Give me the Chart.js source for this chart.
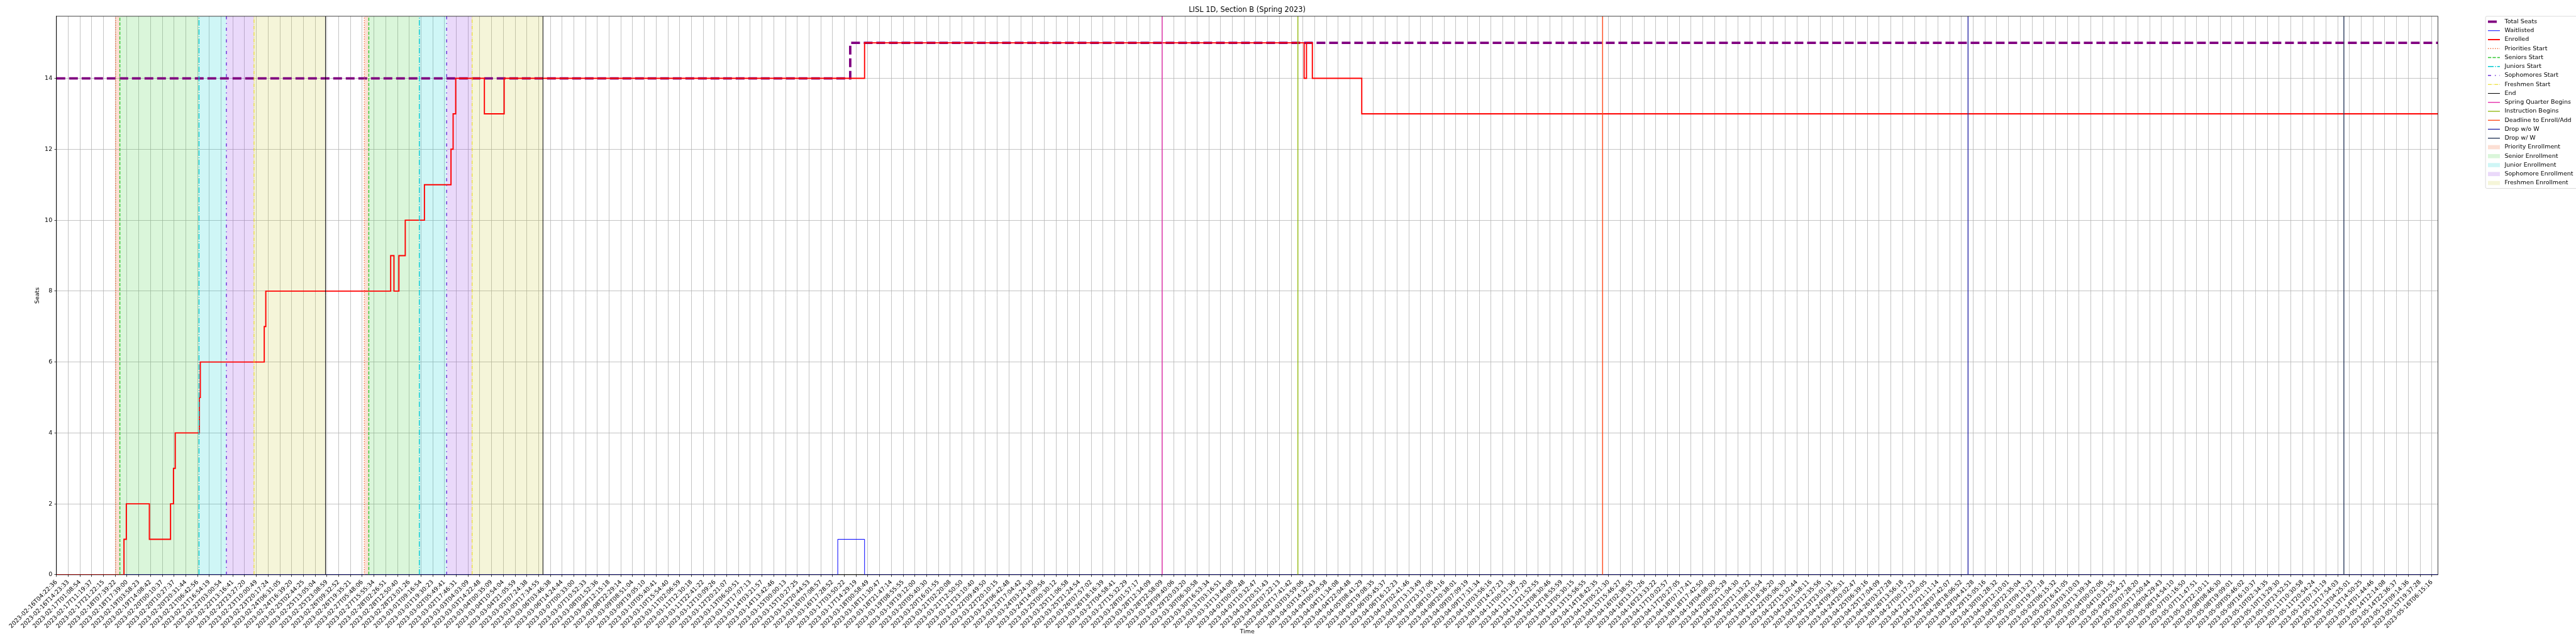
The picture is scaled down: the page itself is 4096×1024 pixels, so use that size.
<!DOCTYPE html>
<html>
<head>
<meta charset="utf-8">
<script src="https://cdn.jsdelivr.net/npm/chart.js@4.4.0/dist/chart.umd.min.js"></script>
<style>
  html, body { margin: 0; padding: 0; background: #fff; }
  canvas { display: block; }
</style>
</head>
<body>
<canvas id="chart" width="4096" height="1024"></canvas>
<script>
// x is the sample index (one tick per labelled sample), y is seats

const tickLabels = [
  '2023-02-16T04:22:36', '2023-02-16T14:23:33', '2023-02-17T01:08:54', '2023-02-17T11:19:37',
  '2023-02-17T21:22:15', '2023-02-18T07:39:22', '2023-02-18T17:39:00', '2023-02-19T03:58:23',
  '2023-02-19T14:08:42', '2023-02-20T00:10:37', '2023-02-20T10:27:37', '2023-02-20T20:31:44',
  '2023-02-21T06:42:56', '2023-02-21T16:54:19', '2023-02-22T03:00:54', '2023-02-22T13:16:41',
  '2023-02-22T23:27:20', '2023-02-23T10:00:49', '2023-02-23T20:17:24', '2023-02-24T06:31:05',
  '2023-02-24T16:39:20', '2023-02-25T02:44:25', '2023-02-25T13:05:04', '2023-02-25T23:08:59',
  '2023-02-26T09:32:52', '2023-02-26T19:35:21', '2023-02-27T05:48:06', '2023-02-27T15:55:34',
  '2023-02-28T02:26:51', '2023-02-28T12:50:40', '2023-02-28T23:01:26', '2023-03-01T09:16:54',
  '2023-03-01T19:30:23', '2023-03-02T05:49:41', '2023-03-02T17:46:31', '2023-03-03T04:03:09',
  '2023-03-03T14:22:48', '2023-03-04T00:35:09', '2023-03-04T10:54:04', '2023-03-04T21:05:59',
  '2023-03-05T07:24:38', '2023-03-05T17:34:55', '2023-03-06T03:46:38', '2023-03-06T14:24:44',
  '2023-03-07T00:33:00', '2023-03-07T10:52:33', '2023-03-08T01:52:36', '2023-03-08T12:15:18',
  '2023-03-08T22:29:14', '2023-03-09T08:51:04', '2023-03-09T19:05:10', '2023-03-10T05:40:41',
  '2023-03-10T15:54:40', '2023-03-11T02:06:59', '2023-03-11T12:30:18', '2023-03-11T22:41:22',
  '2023-03-12T10:09:26', '2023-03-12T20:21:07', '2023-03-13T06:50:51', '2023-03-13T17:07:13',
  '2023-03-14T03:21:57', '2023-03-14T13:42:46', '2023-03-15T00:00:13', '2023-03-15T10:27:25',
  '2023-03-15T20:44:53', '2023-03-16T07:08:57', '2023-03-16T17:28:52', '2023-03-17T03:50:22',
  '2023-03-17T14:29:19', '2023-03-18T00:58:49', '2023-03-18T11:30:47', '2023-03-18T21:47:14',
  '2023-03-19T08:55:55', '2023-03-19T19:12:00', '2023-03-20T05:40:30', '2023-03-20T16:01:55',
  '2023-03-21T02:20:08', '2023-03-21T12:50:50', '2023-03-21T23:10:40', '2023-03-22T09:49:50',
  '2023-03-22T20:10:15', '2023-03-23T06:42:48', '2023-03-23T17:04:42', '2023-03-24T03:24:30',
  '2023-03-24T14:09:56', '2023-03-25T00:30:12', '2023-03-25T11:06:58', '2023-03-25T21:24:54',
  '2023-03-26T07:57:02', '2023-03-26T18:16:39', '2023-03-27T04:58:41', '2023-03-27T15:32:29',
  '2023-03-28T01:57:17', '2023-03-28T12:34:09', '2023-03-28T22:58:09', '2023-03-29T09:40:06',
  '2023-03-29T20:03:20', '2023-03-30T06:30:58', '2023-03-30T16:53:34', '2023-03-31T03:16:51',
  '2023-03-31T13:44:08', '2023-04-01T00:02:48', '2023-04-01T10:32:47', '2023-04-01T20:51:43',
  '2023-04-02T07:22:13', '2023-04-02T17:41:42', '2023-04-03T03:59:06', '2023-04-03T14:32:43',
  '2023-04-04T00:59:58', '2023-04-04T11:34:08', '2023-04-04T22:04:48', '2023-04-05T08:41:29',
  '2023-04-05T19:08:35', '2023-04-06T05:45:37', '2023-04-06T16:12:23', '2023-04-07T02:41:46',
  '2023-04-07T13:13:49', '2023-04-07T23:37:06', '2023-04-08T10:14:16', '2023-04-08T20:38:01',
  '2023-04-09T07:09:19', '2023-04-09T17:31:34', '2023-04-10T03:56:16', '2023-04-10T14:27:23',
  '2023-04-11T00:51:36', '2023-04-11T11:27:20', '2023-04-11T21:52:55', '2023-04-12T08:30:46',
  '2023-04-12T18:55:59', '2023-04-13T05:30:15', '2023-04-13T15:56:55', '2023-04-14T18:42:35',
  '2023-04-15T05:21:30', '2023-04-15T15:46:27', '2023-04-16T02:38:55', '2023-04-16T13:11:26',
  '2023-04-16T23:33:22', '2023-04-17T10:02:57', '2023-04-17T20:27:05', '2023-04-18T07:17:41',
  '2023-04-18T17:42:50', '2023-04-19T04:08:00', '2023-04-20T00:25:29', '2023-04-20T11:04:30',
  '2023-04-20T21:33:22', '2023-04-21T08:10:54', '2023-04-21T18:36:20', '2023-04-22T05:06:30',
  '2023-04-22T15:32:44', '2023-04-23T01:58:11', '2023-04-23T12:35:56', '2023-04-23T23:01:31',
  '2023-04-24T09:36:31', '2023-04-24T20:02:47', '2023-04-25T06:39:16', '2023-04-25T17:04:09',
  '2023-04-26T03:27:28', '2023-04-26T13:56:18', '2023-04-27T00:17:23', '2023-04-27T10:50:05',
  '2023-04-27T21:11:14', '2023-04-28T07:42:07', '2023-04-28T18:06:52', '2023-04-29T04:41:28',
  '2023-04-29T15:05:16', '2023-04-30T01:28:32', '2023-04-30T12:10:01', '2023-04-30T22:35:04',
  '2023-05-01T09:13:23', '2023-05-01T19:37:18', '2023-05-02T06:15:32', '2023-05-02T16:41:05',
  '2023-05-03T03:10:03', '2023-05-03T13:39:34', '2023-05-04T00:02:06', '2023-05-04T10:31:55',
  '2023-05-04T20:54:27', '2023-05-05T07:28:20', '2023-05-05T17:50:44', '2023-05-06T04:29:43',
  '2023-05-06T14:54:10', '2023-05-07T01:16:50', '2023-05-07T11:47:51', '2023-05-07T22:10:11',
  '2023-05-08T08:46:30', '2023-05-08T19:09:01', '2023-05-09T05:46:02', '2023-05-09T16:10:37',
  '2023-05-10T02:34:35', '2023-05-10T13:29:30', '2023-05-10T23:52:51', '2023-05-11T10:30:58',
  '2023-05-11T20:54:24', '2023-05-12T07:31:19', '2023-05-12T17:54:03', '2023-05-13T04:25:01',
  '2023-05-13T14:50:25', '2023-05-14T01:44:46', '2023-05-14T12:14:08', '2023-05-14T22:36:37',
  '2023-05-15T09:14:36', '2023-05-15T19:37:28', '2023-05-16T06:15:16'
]
const yTicks = [0, 2, 4, 6, 8, 10, 12, 14]
const xMax = 202.52 // last sample sits a bit past the last label
const yMax = 15.75

// series, as step change points (x = sample index); value holds until the next point
const totalX = [0, 67.5, 202.52]
const totalY = [14, 15, 15]
const waitX = [0, 66.44, 68.72, 202.52]
const waitY = [0, 1, 0, 0]
const enrolledX = [0, 5.74, 5.94, 7.9, 9.7, 9.95, 10.1, 12.15, 12.23, 17.67, 17.8, 28.42, 28.7,
  29.12, 29.66, 31.29, 33.55, 33.73, 33.95, 36.39, 38.07, 68.72, 106.1, 106.3, 106.8, 111.0, 202.52]
const enrolledY = [0, 1, 2, 1, 2, 3, 4, 5, 6, 7, 8, 9, 8,
  9, 10, 11, 12, 13, 14, 13, 14, 15, 14, 15, 14, 13, 13]

// enrollment phases, two passes
const prioritiesStart = [5.03, 26.18]
const seniorsStart = [5.39, 26.56]
const juniorsStart = [12.12, 30.86]
const sophomoresStart = [14.45, 33.18]
const freshmenStart = [16.8, 35.35]
const phaseEnd = [22.88, 41.37]
// quarter dates
const springQuarterBegins = [94.03]
const instructionBegins = [105.57]
const enrollDeadline = [131.48]
const dropNoW = [162.56]
const dropW = [194.52]

const FONT = 'DejaVu Sans'
const fs = 9.5

const pts = (xs, ys) => xs.map((x, i) => ({ x, y: ys[i] }))

// one dataset per vertical line set, with gaps between lines
function vlines(label, xs, color, width, dash) {
  const data = []
  xs.forEach((x) => {
    data.push({ x, y: 0 }, { x, y: yMax }, { x, y: null })
  })
  return {
    label, data, borderColor: color, borderWidth: width, borderDash: dash,
    pointRadius: 0, spanGaps: false, fill: false,
  }
}

function spans(label, starts, ends, color) {
  return starts.map((a, k) => ({
    label,
    data: [{ x: a, y: yMax }, { x: ends[k], y: yMax }],
    borderWidth: 0, pointRadius: 0, backgroundColor: color,
    fill: 'origin',
  }))
}

const lineSets = [
  vlines('Priorities Start', prioritiesStart, '#f26d3d', 1.4, [1.4, 2.3]),
  vlines('Seniors Start', seniorsStart, '#2ec82e', 1.4, [5.2, 2.2]),
  vlines('Juniors Start', juniorsStart, '#00c8d0', 1.4, [9, 2.2, 1.4, 2.2]),
  vlines('Sophomores Start', sophomoresStart, '#6a2bd8', 1.4, [5, 6, 1.4, 6]),
  vlines('Freshmen Start', freshmenStart, '#e8d800', 1, [6, 1.6, 1, 1.6]),
  vlines('End', phaseEnd, '#000000', 1, []),
  vlines('Spring Quarter Begins', springQuarterBegins, '#e21fa4', 1.3, []),
  vlines('Instruction Begins', instructionBegins, '#8cb400', 1.3, []),
  vlines('Deadline to Enroll/Add', enrollDeadline, '#ff4a1a', 1.4, []),
  vlines('Drop w/o W', dropNoW, '#2c2ca8', 1.4, []),
  vlines('Drop w/ W', dropW, '#2b3a5c', 1.4, []),
]

const seriesSets = [
  {
    label: 'Enrolled', data: pts(enrolledX, enrolledY), stepped: 'before',
    borderColor: '#ff0000', borderWidth: 1.9, pointRadius: 0, fill: false,
  },
  {
    label: 'Waitlisted', data: pts(waitX, waitY), stepped: 'before',
    borderColor: '#0000ff', borderWidth: 1, pointRadius: 0, fill: false,
  },
  {
    label: 'Total Seats', data: pts(totalX, totalY), stepped: 'before',
    borderColor: '#800080', borderWidth: 3.8, borderDash: [14, 6], pointRadius: 0, fill: false,
  },
]

const spanSets = [
  ...spans('Priority Enrollment', prioritiesStart, seniorsStart, 'rgba(240,110,60,0.22)'),
  ...spans('Senior Enrollment', seniorsStart, juniorsStart, 'rgba(50,205,50,0.18)'),
  ...spans('Junior Enrollment', juniorsStart, sophomoresStart, 'rgba(0,206,209,0.19)'),
  ...spans('Sophomore Enrollment', sophomoresStart, freshmenStart, 'rgba(138,43,226,0.18)'),
  ...spans('Freshmen Enrollment', freshmenStart, phaseEnd, 'rgba(191,191,0,0.15)'),
]

// index 0 is drawn on top
const datasets = [...lineSets, ...seriesSets, ...spanSets]

const legendOrder = [
  'Total Seats', 'Waitlisted', 'Enrolled', 'Priorities Start', 'Seniors Start', 'Juniors Start',
  'Sophomores Start', 'Freshmen Start', 'End', 'Spring Quarter Begins', 'Instruction Begins',
  'Deadline to Enroll/Add', 'Drop w/o W', 'Drop w/ W', 'Priority Enrollment', 'Senior Enrollment',
  'Junior Enrollment', 'Sophomore Enrollment', 'Freshmen Enrollment',
]

// matplotlib-like frame + legend outside the axes
const extras = {
  id: 'extras',
  afterDraw(chart) {
    const { ctx, chartArea: a } = chart
    ctx.save()
    ctx.strokeStyle = '#000'
    ctx.lineWidth = 0.75
    ctx.strokeRect(a.left, a.top, a.right - a.left, a.bottom - a.top)

    const bx = 3952.2, by = 25.9, bh = 273.6
    ctx.fillStyle = 'rgba(255,255,255,0.8)'
    ctx.strokeStyle = '#cccccc'
    ctx.lineWidth = 0.7
    ctx.beginPath()
    ctx.roundRect(bx, by, 300, bh, 2)
    ctx.fill()
    ctx.stroke()

    ctx.font = `${fs}px "${FONT}"`
    ctx.textBaseline = 'middle'
    ctx.textAlign = 'left'
    legendOrder.forEach((label, k) => {
      const ds = chart.data.datasets.find((d) => d.label === label)
      const y = 34.5 + k * 14.25
      const x0 = 3956, x1 = 3975
      if (ds.fill === 'origin') {
        ctx.fillStyle = ds.backgroundColor
        ctx.fillRect(x0, y - 3.3, x1 - x0, 6.6)
      } else {
        ctx.strokeStyle = ds.borderColor
        ctx.lineWidth = ds.borderWidth
        ctx.setLineDash(ds.borderDash || [])
        ctx.beginPath()
        ctx.moveTo(x0, y)
        ctx.lineTo(x1, y)
        ctx.stroke()
        ctx.setLineDash([])
      }
      ctx.fillStyle = '#000'
      ctx.fillText(label, 3982.5, y)
    })
    ctx.restore()
  },
}

const tickFont = { family: FONT, size: fs }

new Chart(document.getElementById('chart'), {
  type: 'line',
  data: { datasets },
  options: {
    responsive: false,
    animation: false,
    devicePixelRatio: 1,
    layout: { padding: { left: 0, right: 219.5, top: 0, bottom: 0 } },
    plugins: {
      legend: { display: false },
      tooltip: { enabled: false },
      title: {
        display: true,
        text: 'LISL 1D, Section B (Spring 2023)',
        fullSize: false,
        color: '#000',
        font: { family: FONT, size: 11.4, weight: 'normal', lineHeight: 1.2 },
        padding: { top: 9, bottom: 3.2 },
      },
    },
    scales: {
      x: {
        type: 'linear',
        min: 0,
        max: xMax,
        afterBuildTicks: (s) => { s.ticks = tickLabels.map((_, i) => ({ value: i })) },
        afterFit: (s) => { s.height = 110.1 },
        ticks: {
          autoSkip: false, minRotation: 45, maxRotation: 45, color: '#000', font: tickFont,
          padding: 3, callback: (v) => tickLabels[v],
        },
        grid: { color: '#b0b0b0', lineWidth: 0.75, tickLength: 3.3, tickColor: '#000', tickWidth: 0.75 },
        border: { color: '#000', width: 0.75 },
        title: {
          display: true, text: 'Time', color: '#000',
          font: { family: FONT, size: fs, lineHeight: 1.2 }, padding: { top: 0, bottom: 13.7 },
        },
      },
      y: {
        min: 0,
        max: yMax,
        afterBuildTicks: (s) => { s.ticks = yTicks.map((v) => ({ value: v })) },
        afterFit: (s) => { s.width = 89.8 },
        ticks: { color: '#000', font: tickFont, padding: 3.3 },
        grid: { color: '#b0b0b0', lineWidth: 0.75, tickLength: 3.3, tickColor: '#000', tickWidth: 0.75 },
        border: { color: '#000', width: 0.75 },
        title: {
          display: true, text: 'Seats', color: '#000',
          font: { family: FONT, size: fs, lineHeight: 1.2 }, padding: { top: 54.3, bottom: 0 },
        },
      },
    },
  },
  plugins: [extras],
})
</script>
</body>
</html>
